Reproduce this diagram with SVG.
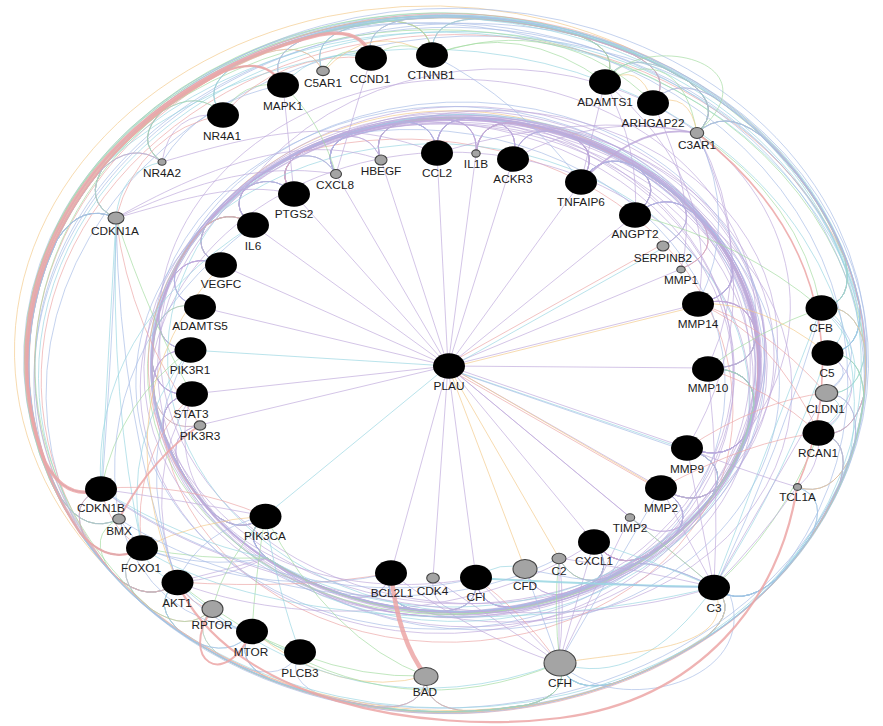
<svg xmlns="http://www.w3.org/2000/svg" width="883" height="726" viewBox="0 0 883 726">
<style>
.e{fill:none;stroke-width:.8;stroke-opacity:.85}
.p{stroke:#bea9db}
.b{stroke:#a7bde6}
.c{stroke:#98d6e2}
.k{stroke:#eca6a6}
.g{stroke:#a3dba0}
.o{stroke:#f3c98a}
.n{fill:#000}
.s{fill:#a4a4a4;stroke:#444;stroke-width:1.1}
text{font-family:"Liberation Sans",Arial,sans-serif;font-size:11.8px;fill:#1c1c1c;text-anchor:middle}
</style>
<rect width="883" height="726" fill="#fff"/>
<g id="connectors">
<g id="spokes">
<path class="e p" d="M448 366L336 174M448 366L381 160M448 366L437 153M448 366L476 154M448 366L513 159M448 366L581 182M448 366L294 194M448 366L253 225M448 366L221 265M448 366L200 307M448 366L192 394M448 366L200 425M448 366L708 368M448 366L687 448M448 366L661 488M448 366L630 517M448 366L594 542M448 366L391 573M448 366L433 578M448 366L476 578M448 366L635 215M448 366L681 269M448 366L698 304M448 366L714 587"/>
<path class="e c" d="M448 366L190 350M448 366L265 516M449 368L663 248M449 369L688 450"/>
<path class="e o" d="M448 368L698 306M448 366L525 569M448 366L559 558M450 367L662 490"/>
<path class="e k" d="M448 364L663 244M447 368L660 490"/>
<path class="e b" d="M448 369L686 451"/>
</g>
<g id="inner-bundle">
<path class="e p" d="M294 194Q272 171 302 152A300 245 0 0 1 399 122Q434 120 437 153"/>
<path class="e p" d="M294 194Q272 171 302 152A315 257 0 0 1 444 119Q479 121 476 154"/>
<path class="e b" d="M294 194Q272 171 302 152A285 233 0 0 1 488 120Q522 126 513 159"/>
<path class="e p" d="M294 194Q272 171 302 152A300 245 0 0 1 570 136Q602 151 581 182"/>
<path class="e p" d="M294 194Q272 171 302 152A315 257 0 0 1 638 168Q665 190 635 215"/>
<path class="e c" d="M294 194Q272 171 302 152A300 245 0 0 1 678 197Q701 224 663 246"/>
<path class="e p" d="M294 194Q272 171 302 152A285 233 0 0 1 730 260Q742 293 698 304"/>
<path class="e p" d="M294 194Q272 171 302 152A315 257 0 0 1 756 334Q755 369 708 368"/>
<path class="e p" d="M294 194Q272 171 302 152A300 245 0 0 1 747 432Q730 463 687 448"/>
<path class="e k" d="M294 194Q272 171 302 152A330 270 0 0 1 720 484Q697 510 661 488"/>
<path class="e p" d="M253 225Q226 206 251 182A300 245 0 0 1 287 160Q319 147 336 174"/>
<path class="e p" d="M253 225Q226 206 251 182A315 257 0 0 1 399 122Q434 120 437 153"/>
<path class="e p" d="M253 225Q226 206 251 182A285 233 0 0 1 488 120Q522 126 513 159"/>
<path class="e g" d="M253 225Q226 206 251 182A300 245 0 0 1 570 136Q602 151 581 182"/>
<path class="e p" d="M253 225Q226 206 251 182A300 245 0 0 1 638 168Q665 190 635 215"/>
<path class="e p" d="M253 225Q226 206 251 182A315 257 0 0 1 702 222Q721 252 681 269"/>
<path class="e b" d="M253 225Q226 206 251 182A300 245 0 0 1 756 334Q755 369 708 368"/>
<path class="e p" d="M253 225Q226 206 251 182A285 233 0 0 1 747 432Q730 463 687 448"/>
<path class="e p" d="M221 265Q189 251 208 222A300 245 0 0 1 336 138Q370 130 381 160"/>
<path class="e p" d="M221 265Q189 251 208 222A330 270 0 0 1 444 119Q479 121 476 154"/>
<path class="e p" d="M221 265Q189 251 208 222A300 245 0 0 1 570 136Q602 151 581 182"/>
<path class="e o" d="M221 265Q189 251 208 222A285 233 0 0 1 638 168Q665 190 635 215"/>
<path class="e p" d="M221 265Q189 251 208 222A300 245 0 0 1 730 260Q742 293 698 304"/>
<path class="e c" d="M221 265Q189 251 208 222A315 257 0 0 1 747 432Q730 463 687 448"/>
<path class="e p" d="M221 265Q189 251 208 222A300 245 0 0 1 720 484Q697 510 661 488"/>
<path class="e p" d="M200 307Q166 299 177 266A285 233 0 0 1 399 122Q434 120 437 153"/>
<path class="e p" d="M200 307Q166 299 177 266A315 257 0 0 1 570 136Q602 151 581 182"/>
<path class="e p" d="M200 307Q166 299 177 266A300 245 0 0 1 730 260Q742 293 698 304"/>
<path class="e b" d="M200 307Q166 299 177 266A300 245 0 0 1 747 432Q730 463 687 448"/>
<path class="e g" d="M190 350Q156 348 159 313A300 245 0 0 1 201 230Q226 206 253 225"/>
<path class="e p" d="M190 350Q156 348 159 313A300 245 0 0 1 242 190Q272 171 294 194"/>
<path class="e c" d="M190 350Q156 348 159 313A315 257 0 0 1 287 160Q319 147 336 174"/>
<path class="e p" d="M190 350Q156 348 159 313A300 245 0 0 1 638 168Q665 190 635 215"/>
<path class="e p" d="M190 350Q156 348 159 313A285 233 0 0 1 756 334Q755 369 708 368"/>
<path class="e p" d="M192 394Q158 398 152 363A300 245 0 0 1 170 281Q189 251 221 265"/>
<path class="e k" d="M192 394Q158 398 152 363A300 245 0 0 1 201 230Q226 206 253 225"/>
<path class="e p" d="M192 394Q158 398 152 363A315 257 0 0 1 242 190Q272 171 294 194"/>
<path class="e p" d="M192 394Q158 398 152 363A300 245 0 0 1 336 138Q370 130 381 160"/>
<path class="e b" d="M192 394Q158 398 152 363A300 245 0 0 1 730 260Q742 293 698 304"/>
<path class="e p" d="M192 394Q158 398 152 363A300 245 0 1 1 747 432Q730 463 687 448"/>
<path class="e o" d="M200 425Q167 433 155 400A300 245 0 0 1 201 230Q226 206 253 225"/>
<path class="e p" d="M200 425Q167 433 155 400A300 245 0 0 1 399 122Q434 120 437 153"/>
<path class="e p" d="M336 174Q319 147 351 134A300 245 0 0 1 399 122Q434 120 437 153"/>
<path class="e p" d="M336 174Q319 147 351 134A315 257 0 0 1 444 119Q479 121 476 154"/>
<path class="e p" d="M336 174Q319 147 351 134A285 233 0 0 1 488 120Q522 126 513 159"/>
<path class="e p" d="M336 174Q319 147 351 134A300 245 0 0 1 570 136Q602 151 581 182"/>
<path class="e b" d="M336 174Q319 147 351 134A300 245 0 0 1 638 168Q665 190 635 215"/>
<path class="e p" d="M336 174Q319 147 351 134A315 257 0 0 1 678 197Q701 224 663 246"/>
<path class="e p" d="M336 174Q319 147 351 134A300 245 0 0 1 702 222Q721 252 681 269"/>
<path class="e c" d="M336 174Q319 147 351 134A285 233 0 0 1 730 260Q742 293 698 304"/>
<path class="e p" d="M336 174Q319 147 351 134A300 245 0 0 1 756 334Q755 369 708 368"/>
<path class="e p" d="M336 174Q319 147 351 134A315 257 0 0 1 747 432Q730 463 687 448"/>
<path class="e p" d="M336 174Q319 147 351 134A300 245 0 0 1 720 484Q697 510 661 488"/>
<path class="e p" d="M336 174Q319 147 351 134A300 245 0 0 1 688 522Q660 543 630 517"/>
<path class="e b" d="M336 174Q319 147 351 134A315 257 0 0 1 648 555Q617 571 594 542"/>
<path class="e p" d="M381 160Q370 130 404 122A300 245 0 0 1 444 119Q479 121 476 154"/>
<path class="e p" d="M381 160Q370 130 404 122A300 245 0 0 1 488 120Q522 126 513 159"/>
<path class="e p" d="M381 160Q370 130 404 122A285 233 0 0 1 570 136Q602 151 581 182"/>
<path class="e p" d="M381 160Q370 130 404 122A315 257 0 0 1 638 168Q665 190 635 215"/>
<path class="e g" d="M381 160Q370 130 404 122A300 245 0 0 1 756 334Q755 369 708 368"/>
<path class="e p" d="M381 160Q370 130 404 122A300 245 0 0 1 747 432Q730 463 687 448"/>
<path class="e p" d="M381 160Q370 130 404 122A285 233 0 0 1 720 484Q697 510 661 488"/>
<path class="e p" d="M381 160Q370 130 404 122A315 257 0 0 1 648 555Q617 571 594 542"/>
<path class="e p" d="M437 153Q434 120 469 118A300 245 0 0 1 488 120Q522 126 513 159"/>
<path class="e p" d="M437 153Q434 120 469 118A300 245 0 0 1 570 136Q602 151 581 182"/>
<path class="e c" d="M437 153Q434 120 469 118A315 257 0 0 1 638 168Q665 190 635 215"/>
<path class="e p" d="M437 153Q434 120 469 118A300 245 0 0 1 730 260Q742 293 698 304"/>
<path class="e p" d="M437 153Q434 120 469 118A285 233 0 0 1 747 432Q730 463 687 448"/>
<path class="e b" d="M437 153Q434 120 469 118A300 245 0 0 1 720 484Q697 510 661 488"/>
<path class="e p" d="M437 153Q434 120 469 118A300 245 0 0 1 648 555Q617 571 594 542"/>
<path class="e p" d="M437 153Q434 120 469 118A315 257 0 0 1 609 577Q576 589 559 558"/>
<path class="e p" d="M476 154Q479 121 514 123A300 245 0 0 1 570 136Q602 151 581 182"/>
<path class="e p" d="M476 154Q479 121 514 123A285 233 0 0 1 638 168Q665 190 635 215"/>
<path class="e p" d="M476 154Q479 121 514 123A300 245 0 0 1 678 197Q701 224 663 246"/>
<path class="e k" d="M476 154Q479 121 514 123A300 245 0 0 1 702 222Q721 252 681 269"/>
<path class="e p" d="M476 154Q479 121 514 123A315 257 0 0 1 756 334Q755 369 708 368"/>
<path class="e p" d="M476 154Q479 121 514 123A300 245 0 0 1 747 432Q730 463 687 448"/>
<path class="e o" d="M476 154Q479 121 514 123A300 245 0 0 1 720 484Q697 510 661 488"/>
<path class="e p" d="M476 154Q479 121 514 123A285 233 0 0 1 688 522Q660 543 630 517"/>
<path class="e p" d="M476 154Q479 121 514 123A300 245 0 0 1 648 555Q617 571 594 542"/>
<path class="e p" d="M476 154Q479 121 514 123A315 257 0 0 1 570 593Q536 601 525 569"/>
<path class="e p" d="M476 154Q479 121 514 123A300 245 0 0 1 514 607Q479 609 476 578"/>
<path class="e p" d="M513 159Q522 126 556 132A300 245 0 0 1 638 168Q665 190 635 215"/>
<path class="e p" d="M513 159Q522 126 556 132A300 245 0 0 1 730 260Q742 293 698 304"/>
<path class="e b" d="M513 159Q522 126 556 132A315 257 0 0 1 747 432Q730 463 687 448"/>
<path class="e p" d="M513 159Q522 126 556 132A300 245 0 0 1 648 555Q617 571 594 542"/>
<path class="e p" d="M581 182Q602 151 634 166A300 245 0 0 1 730 260Q742 293 698 304"/>
<path class="e p" d="M581 182Q602 151 634 166A285 233 0 0 1 756 334Q755 369 708 368"/>
<path class="e p" d="M581 182Q602 151 634 166A300 245 0 0 1 747 432Q730 463 687 448"/>
<path class="e c" d="M581 182Q602 151 634 166A300 245 0 0 1 720 484Q697 510 661 488"/>
<path class="e p" d="M581 182Q602 151 634 166A315 257 0 0 1 648 555Q617 571 594 542"/>
<path class="e p" d="M581 182Q602 151 634 166A300 245 0 0 1 609 577Q576 589 559 558"/>
<path class="e p" d="M581 182Q602 151 634 166A300 245 0 0 1 514 607Q479 609 476 578"/>
<path class="e b" d="M581 182Q602 151 634 166A300 245 0 0 1 416 610Q382 603 391 573"/>
<path class="e p" d="M635 215Q665 190 692 212A300 245 0 0 1 747 432Q730 463 687 448"/>
<path class="e p" d="M635 215Q665 190 692 212A315 257 0 0 1 720 484Q697 510 661 488"/>
<path class="e p" d="M635 215Q665 190 692 212A300 245 0 0 1 648 555Q617 571 594 542"/>
<path class="e p" d="M635 215Q665 190 692 212A300 245 0 0 1 514 607Q479 609 476 578"/>
<path class="e p" d="M635 215Q665 190 692 212A285 233 0 0 1 416 610Q382 603 391 573"/>
<path class="e b" d="M635 215Q665 190 692 212A300 245 0 0 1 267 558Q240 536 265 516"/>
<path class="e p" d="M698 304Q742 293 754 326A300 245 0 0 1 720 484Q697 510 661 488"/>
<path class="e k" d="M698 304Q742 293 754 326A300 245 0 0 1 648 555Q617 571 594 542"/>
<path class="e p" d="M698 304Q742 293 754 326A315 257 0 0 1 514 607Q479 609 476 578"/>
<path class="e p" d="M698 304Q742 293 754 326A300 245 0 0 1 416 610Q382 603 391 573"/>
<path class="e p" d="M698 304Q742 293 754 326A300 245 0 0 1 267 558Q240 536 265 516"/>
<path class="e p" d="M708 368Q755 369 754 404A300 245 0 0 1 648 555Q617 571 594 542"/>
<path class="e g" d="M708 368Q755 369 754 404A300 245 0 0 1 609 577Q576 589 559 558"/>
<path class="e p" d="M708 368Q755 369 754 404A300 245 0 0 1 514 607Q479 609 476 578"/>
<path class="e p" d="M708 368Q755 369 754 404A315 257 0 0 1 465 612Q430 609 433 578"/>
<path class="e b" d="M708 368Q755 369 754 404A300 245 0 0 1 416 610Q382 603 391 573"/>
<path class="e p" d="M708 368Q755 369 754 404A285 233 0 0 1 267 558Q240 536 265 516"/>
<path class="e p" d="M708 368Q755 369 754 404A300 245 0 0 1 179 466Q167 433 200 425"/>
<path class="e c" d="M708 368Q755 369 754 404A300 245 0 0 1 164 433Q158 398 192 394"/>
<path class="e p" d="M687 448Q730 463 713 494A300 245 0 0 1 570 593Q536 601 525 569"/>
<path class="e b" d="M687 448Q730 463 713 494A300 245 0 0 1 514 607Q479 609 476 578"/>
<path class="e p" d="M687 448Q730 463 713 494A315 257 0 0 1 416 610Q382 603 391 573"/>
<path class="e p" d="M687 448Q730 463 713 494A300 245 0 0 1 267 558Q240 536 265 516"/>
<path class="e p" d="M687 448Q730 463 713 494A300 245 0 0 1 179 466Q167 433 200 425"/>
<path class="e k" d="M687 448Q730 463 713 494A285 233 0 0 1 164 433Q158 398 192 394"/>
<path class="e p" d="M687 448Q730 463 713 494A300 245 0 0 1 153 383Q156 348 190 350"/>
<path class="e p" d="M687 448Q730 463 713 494A300 245 0 0 1 170 281Q189 251 221 265"/>
<path class="e p" d="M661 488Q697 510 674 536A300 245 0 0 1 514 607Q479 609 476 578"/>
<path class="e p" d="M661 488Q697 510 674 536A300 245 0 0 1 416 610Q382 603 391 573"/>
<path class="e c" d="M661 488Q697 510 674 536A300 245 0 0 1 267 558Q240 536 265 516"/>
<path class="e p" d="M661 488Q697 510 674 536A315 257 0 0 1 164 433Q158 398 192 394"/>
<path class="e p" d="M661 488Q697 510 674 536A300 245 0 0 1 155 332Q166 299 200 307"/>
<path class="e b" d="M661 488Q697 510 674 536A300 245 0 0 1 201 230Q226 206 253 225"/>
<path class="e p" d="M594 542Q617 571 586 587A300 245 0 0 1 416 610Q382 603 391 573"/>
<path class="e b" d="M594 542Q617 571 586 587A300 245 0 0 1 267 558Q240 536 265 516"/>
<path class="e p" d="M594 542Q617 571 586 587A300 245 0 0 1 153 383Q156 348 190 350"/>
<path class="e p" d="M594 542Q617 571 586 587A315 257 0 0 1 170 281Q189 251 221 265"/>
<path class="e g" d="M594 542Q617 571 586 587A300 245 0 0 1 201 230Q226 206 253 225"/>
<path class="e p" d="M594 542Q617 571 586 587A300 245 0 0 1 242 190Q272 171 294 194"/>
<path class="e p" d="M476 578Q479 609 444 611A300 245 0 0 1 267 558Q240 536 265 516"/>
<path class="e b" d="M476 578Q479 609 444 611A300 245 0 0 1 164 433Q158 398 192 394"/>
<path class="e p" d="M476 578Q479 609 444 611A300 245 0 0 1 170 281Q189 251 221 265"/>
<path class="e c" d="M476 578Q479 609 444 611A315 257 0 0 1 242 190Q272 171 294 194"/>
<path class="e p" d="M391 573Q382 603 348 596A300 245 0 0 1 153 383Q156 348 190 350"/>
<path class="e p" d="M391 573Q382 603 348 596A300 245 0 0 1 201 230Q226 206 253 225"/>
<path class="e p" d="M265 516Q240 536 213 513A300 245 0 0 1 164 433Q158 398 192 394"/>
<path class="e g" d="M265 516Q240 536 213 513A300 245 0 0 1 155 332Q166 299 200 307"/>
<path class="e p" d="M265 516Q240 536 213 513A300 245 0 0 1 170 281Q189 251 221 265"/>
<path class="e k" d="M265 516Q240 536 213 513A285 233 0 0 1 201 230Q226 206 253 225"/>
<path class="e p" d="M265 516Q240 536 213 513A300 245 0 0 1 242 190Q272 171 294 194"/>
<path class="e p" d="M265 516Q240 536 213 513A315 257 0 0 1 287 160Q319 147 336 174"/>
<path class="e b" d="M265 516Q240 536 213 513A300 245 0 0 1 399 122Q434 120 437 153"/>
<path class="e c" d="M714 587Q660 560 632 564A300 245 0 0 1 416 610Q382 603 391 573"/>
<path class="e b" d="M714 587Q660 560 632 564A300 245 0 0 1 267 558Q240 536 265 516"/>
<path class="e p" d="M714 587Q660 560 632 564A300 245 0 0 1 164 433Q158 398 192 394"/>
<path class="e p" d="M661 488Q697 510 674 536A300 245 0 0 1 267 558Q225 570 177 582"/>
<path class="e b" d="M594 542Q617 571 586 587A300 245 0 0 1 267 558Q200 570 142 548"/>
<path class="e c" d="M687 448Q730 463 713 494A315 257 0 0 1 267 558Q180 540 101 489"/>
<path class="e p" d="M476 578Q479 609 444 611A300 245 0 0 1 267 558Q220 580 177 582"/>
<path class="e g" d="M708 368Q755 369 754 404A300 245 0 0 1 267 558Q200 560 142 548"/>
</g>
<g id="outer-bundle">
<path class="e c" d="M101 489Q66 502 45 462A415 345 0 0 1 688 81Q724 108 697 133"/>
<path class="e b" d="M101 489Q66 502 45 462A432 358 0 0 1 580 36Q622 52 605 82"/>
<path class="e k" d="M101 489Q66 502 45 462A415 345 0 0 1 634 55Q674 76 653 103"/>
<path class="e g" d="M101 489Q66 502 45 462A415 345 0 0 1 385 21Q430 20 432 55"/>
<path class="e c" d="M101 489Q66 502 45 462A400 333 0 0 1 223 72Q265 55 283 85"/>
<path class="e b" d="M101 489Q66 502 45 462A415 345 0 0 1 161 112Q199 88 223 115"/>
<path class="e p" d="M101 489Q66 502 45 462A415 345 0 0 1 266 53Q309 40 323 72"/>
<path class="e b" d="M142 548Q110 567 80 533A432 358 0 0 1 688 81Q724 108 697 133"/>
<path class="e c" d="M142 548Q110 567 80 533A415 345 0 0 1 580 36Q622 52 605 82"/>
<path class="e k" d="M142 548Q110 567 80 533A415 345 0 0 1 319 35Q363 27 371 58"/>
<path class="e o" d="M142 548Q110 567 80 533A415 345 0 0 1 100 171Q132 140 162 162"/>
<path class="e c" d="M142 548Q110 567 80 533A400 333 0 0 1 57 240Q81 202 116 218"/>
<path class="e b" d="M142 548Q110 567 80 533A415 345 0 0 1 634 55Q674 76 653 103"/>
<path class="e b" d="M177 582Q149 605 115 576A415 345 0 0 1 385 21Q430 20 432 55"/>
<path class="e g" d="M177 582Q149 605 115 576A415 345 0 0 1 580 36Q622 52 605 82"/>
<path class="e b" d="M177 582Q149 605 115 576A415 345 0 0 1 57 240Q81 202 116 218"/>
<path class="e k" d="M177 582Q149 605 115 576A432 358 0 0 1 223 72Q265 55 283 85"/>
<path class="e o" d="M177 582Q149 605 115 576A415 345 0 0 1 688 81Q724 108 697 133"/>
<path class="e c" d="M177 582Q149 605 115 576A415 345 0 1 1 860 307Q862 352 827 353"/>
<path class="e b" d="M177 582Q149 605 115 576A415 345 0 1 1 864 395Q852 439 819 433"/>
<path class="e k" d="M177 582Q149 605 115 576A415 345 0 1 1 845 259Q855 303 821 308"/>
<path class="e c" d="M119 519Q86 535 61 498A415 345 0 0 1 319 35Q363 27 371 58"/>
<path class="e b" d="M119 519Q86 535 61 498A415 345 0 0 1 634 55Q674 76 653 103"/>
<path class="e o" d="M119 519Q86 535 61 498A415 345 0 0 1 266 53Q309 40 323 72"/>
<path class="e g" d="M119 519Q86 535 61 498A415 345 0 0 1 688 81Q724 108 697 133"/>
<path class="e b" d="M116 218Q81 202 105 164A415 345 0 0 1 688 81Q724 108 697 133"/>
<path class="e c" d="M116 218Q81 202 105 164A415 345 0 0 1 580 36Q622 52 605 82"/>
<path class="e k" d="M116 218Q81 202 105 164A415 345 0 0 1 845 259Q855 303 821 308"/>
<path class="e c" d="M116 218Q81 202 105 164A432 358 0 0 1 860 307Q862 352 827 353"/>
<path class="e b" d="M116 218Q81 202 105 164A415 345 0 0 1 864 395Q852 439 819 433"/>
<path class="e o" d="M116 218Q81 202 105 164A415 345 0 0 1 385 21Q430 20 432 55"/>
<path class="e c" d="M116 218Q81 202 105 164A432 358 0 0 1 850 458Q830 498 797 487"/>
<path class="e k" d="M162 162Q132 140 164 109A415 345 0 0 1 319 35Q363 27 371 58"/>
<path class="e c" d="M162 162Q132 140 164 109A415 345 0 0 1 688 81Q724 108 697 133"/>
<path class="e b" d="M162 162Q132 140 164 109A415 345 0 0 1 845 259Q855 303 821 308"/>
<path class="e g" d="M162 162Q132 140 164 109A432 358 0 0 1 865 351Q860 396 826 393"/>
<path class="e g" d="M223 115Q199 88 237 64A415 345 0 0 1 385 21Q430 20 432 55"/>
<path class="e b" d="M223 115Q199 88 237 64A415 345 0 0 1 634 55Q674 76 653 103"/>
<path class="e c" d="M223 115Q199 88 237 64A415 345 0 0 1 860 307Q862 352 827 353"/>
<path class="e k" d="M283 85Q265 55 307 38A415 345 0 0 1 580 36Q622 52 605 82"/>
<path class="e c" d="M283 85Q265 55 307 38A415 345 0 0 1 688 81Q724 108 697 133"/>
<path class="e b" d="M283 85Q265 55 307 38A432 358 0 0 1 864 395Q852 439 819 433"/>
<path class="e g" d="M323 72Q309 40 352 27A415 345 0 0 1 688 81Q724 108 697 133"/>
<path class="e c" d="M323 72Q309 40 352 27A415 345 0 0 1 860 307Q862 352 827 353"/>
<path class="e b" d="M323 72Q309 40 352 27A432 358 0 0 1 775 580Q740 609 714 587"/>
<path class="e k" d="M371 58Q363 27 407 19A415 345 0 0 1 634 55Q674 76 653 103"/>
<path class="e c" d="M371 58Q363 27 407 19A415 345 0 0 1 845 259Q855 303 821 308"/>
<path class="e b" d="M371 58Q363 27 407 19A415 345 0 0 1 775 580Q740 609 714 587"/>
<path class="e g" d="M432 55Q430 20 475 19A415 345 0 0 1 580 36Q622 52 605 82"/>
<path class="e p" d="M432 55Q430 20 475 19A415 345 0 0 1 688 81Q724 108 697 133"/>
<path class="e c" d="M432 55Q430 20 475 19A432 358 0 0 1 865 351Q860 396 826 393"/>
<path class="e g" d="M605 82Q622 52 664 68A415 345 0 0 1 845 259Q855 303 821 308"/>
<path class="e b" d="M605 82Q622 52 664 68A415 345 0 0 1 775 580Q740 609 714 587"/>
<path class="e c" d="M653 103Q674 76 714 97A415 345 0 0 1 860 307Q862 352 827 353"/>
<path class="e p" d="M653 103Q674 76 714 97A415 345 0 0 1 850 458Q830 498 797 487"/>
<path class="e c" d="M697 133Q724 108 760 135A415 345 0 0 1 845 259Q855 303 821 308"/>
<path class="e b" d="M697 133Q724 108 760 135A415 345 0 0 1 860 307Q862 352 827 353"/>
<path class="e k" d="M697 133Q724 108 760 135A415 345 0 0 1 864 395Q852 439 819 433"/>
<path class="e c" d="M697 133Q724 108 760 135A432 358 0 0 1 775 580Q740 609 714 587"/>
<path class="e b" d="M697 133Q724 108 760 135A415 345 0 0 1 615 683Q571 694 559 663"/>
<path class="e c" d="M821 308Q855 303 865 347A415 345 0 0 1 775 580Q740 609 714 587"/>
<path class="e b" d="M821 308Q855 303 865 347A415 345 0 0 1 615 683Q571 694 559 663"/>
<path class="e o" d="M821 308Q855 303 865 347A400 333 0 0 1 850 458Q830 498 797 487"/>
<path class="e b" d="M827 353Q862 352 864 397A415 345 0 0 1 775 580Q740 609 714 587"/>
<path class="e c" d="M827 353Q862 352 864 397A432 358 0 0 1 615 683Q571 694 559 663"/>
<path class="e g" d="M827 353Q862 352 864 397A415 345 0 0 1 469 711Q424 709 426 676"/>
<path class="e c" d="M826 393Q860 396 855 441A415 345 0 0 1 775 580Q740 609 714 587"/>
<path class="e p" d="M826 393Q860 396 855 441A415 345 0 0 1 615 683Q571 694 559 663"/>
<path class="e b" d="M819 433Q852 439 840 483A400 333 0 0 1 775 580Q740 609 714 587"/>
<path class="e c" d="M819 433Q852 439 840 483A415 345 0 0 1 615 683Q571 694 559 663"/>
<path class="e k" d="M819 433Q852 439 840 483A415 345 0 0 1 183 634Q149 605 177 582"/>
<path class="e b" d="M819 433Q852 439 840 483A432 358 0 0 1 271 680Q231 660 252 631"/>
<path class="e c" d="M797 487Q830 498 810 538A415 345 0 0 1 615 683Q571 694 559 663"/>
<path class="e b" d="M797 487Q830 498 810 538A415 345 0 0 1 326 697Q284 682 300 652"/>
<path class="e b" d="M714 587Q740 609 705 638A415 345 0 0 1 469 711Q424 709 426 676"/>
<path class="e c" d="M714 587Q740 609 705 638A415 345 0 0 1 271 680Q231 660 252 631"/>
<path class="e p" d="M714 587Q740 609 705 638A415 345 0 0 1 183 634Q149 605 177 582"/>
<path class="e c" d="M714 587Q740 609 705 638A432 358 0 0 1 140 601Q110 567 142 548"/>
<path class="e b" d="M714 587Q740 609 705 638A415 345 0 0 1 87 542Q66 502 101 489"/>
<path class="e o" d="M714 587Q740 609 705 638A415 345 0 0 1 225 659Q188 634 212 609"/>
<path class="e k" d="M559 663Q571 694 527 705A400 333 0 0 1 469 711Q424 709 426 676"/>
<path class="e b" d="M559 663Q571 694 527 705A415 345 0 0 1 271 680Q231 660 252 631"/>
<path class="e c" d="M559 663Q571 694 527 705A415 345 0 0 1 183 634Q149 605 177 582"/>
<path class="e o" d="M559 663Q571 694 527 705A432 358 0 0 1 140 601Q110 567 142 548"/>
<path class="e c" d="M559 663Q571 694 527 705A415 345 0 0 1 225 659Q188 634 212 609"/>
<path class="e b" d="M559 663Q571 694 527 705A415 345 0 0 1 87 542Q66 502 101 489"/>
<path class="e g" d="M559 663Q571 694 527 705A415 345 0 0 1 111 572Q86 535 119 519"/>
<path class="e c" d="M426 676Q424 709 379 707A415 345 0 0 1 183 634Q149 605 177 582"/>
<path class="e b" d="M426 676Q424 709 379 707A415 345 0 0 1 140 601Q110 567 142 548"/>
<path class="e k" d="M426 676Q424 709 379 707A432 358 0 0 1 87 542Q66 502 101 489"/>
<path class="e c" d="M252 631Q231 660 191 640A415 345 0 0 1 57 240Q81 202 116 218"/>
<path class="e b" d="M252 631Q231 660 191 640A415 345 0 0 1 100 171Q132 140 162 162"/>
<path class="e k" d="M212 609Q188 634 151 609A415 345 0 0 1 57 240Q81 202 116 218"/>
<path class="e g" d="M212 609Q188 634 151 609A432 358 0 0 1 161 112Q199 88 223 115"/>
<path class="e b" d="M119 519Q86 535 61 498A415 345 0 0 1 57 240Q81 202 116 218"/>
<path class="e c" d="M101 489Q66 502 45 462A415 345 0 0 1 57 240Q81 202 116 218"/>
<path class="e p" d="M101 489Q66 502 45 462A415 345 0 0 1 100 171Q132 140 162 162"/>
<path class="e b" d="M300 652Q284 682 242 667A415 345 0 0 1 57 240Q81 202 116 218"/>
</g>
<g id="local-links">
<path class="e g" d="M223 115Q240 80 283 85"/>
<path class="e k" d="M223 115Q280 50 371 58"/>
<path class="e c" d="M283 85Q320 45 371 58"/>
<path class="e g" d="M323 72Q340 40 371 58"/>
<path class="e o" d="M323 72Q370 20 432 55"/>
<path class="e g" d="M371 58Q400 35 432 55"/>
<path class="e g" d="M432 55Q520 20 605 82"/>
<path class="e g" d="M432 55Q560 10 653 103"/>
<path class="e o" d="M605 82Q640 60 653 103"/>
<path class="e g" d="M605 82Q680 40 697 133"/>
<path class="e o" d="M653 103Q690 90 697 133"/>
<path class="e g" d="M605 82C640 30 780 60 697 133"/>
<path class="e p" d="M162 162Q170 110 223 115"/>
<path class="e b" d="M162 162Q200 100 283 85"/>
<path class="e c" d="M116 218Q120 170 162 162"/>
<path class="e k" d="M116 218Q140 130 223 115"/>
<path class="e p" d="M162 162C240 140 330 110 437 153"/>
<path class="e p" d="M116 218C180 190 250 160 336 174"/>
<path class="e p" d="M116 218C180 200 240 180 294 194"/>
<path class="e p" d="M116 218C200 170 300 130 381 160"/>
<path class="e c" d="M116 218L101 489"/>
<path class="e b" d="M117 219Q112 350 102 489"/>
<path class="e g" d="M116 218Q150 320 192 394"/>
<path class="e k" d="M116 218Q130 330 200 425"/>
<path class="e b" d="M116 218Q120 420 177 582"/>
<path class="e c" d="M116 218Q110 400 142 548"/>
<path class="e p" d="M697 133Q600 110 513 159"/>
<path class="e p" d="M697 133Q580 110 437 153"/>
<path class="e p" d="M697 133Q760 250 708 368"/>
<path class="e p" d="M697 133Q775 300 687 448"/>
<path class="e b" d="M697 133Q740 220 698 304"/>
<path class="e p" d="M605 82L581 182"/>
<path class="e p" d="M605 82Q640 150 635 215"/>
<path class="e p" d="M653 103Q700 200 681 269"/>
<path class="e p" d="M605 82Q720 180 698 304"/>
<path class="e b" d="M432 55Q520 100 581 182"/>
<path class="e p" d="M371 58L336 174"/>
<path class="e p" d="M283 85L294 194"/>
<path class="e g" d="M283 85Q320 120 336 174"/>
<path class="e c" d="M821 308Q860 325 827 353"/>
<path class="e b" d="M827 353Q860 372 826 393"/>
<path class="e c" d="M826 393Q858 412 819 433"/>
<path class="e b" d="M821 308Q880 350 826 393"/>
<path class="e c" d="M821 308Q890 370 819 433"/>
<path class="e p" d="M827 353Q880 390 819 433"/>
<path class="e c" d="M821 308L714 587"/>
<path class="e b" d="M822 309Q780 450 715 588"/>
<path class="e c" d="M827 353Q790 470 714 587"/>
<path class="e p" d="M826 393L714 587"/>
<path class="e g" d="M819 433Q780 530 714 587"/>
<path class="e p" d="M819 433Q820 470 797 487"/>
<path class="e p" d="M797 487Q740 470 687 448"/>
<path class="e k" d="M698 304Q770 330 819 433"/>
<path class="e k" d="M708 368Q770 390 819 433"/>
<path class="e k" d="M698 304Q760 320 826 393"/>
<path class="e k" d="M687 448Q760 400 826 393"/>
<path class="e k" d="M661 488Q750 440 819 433"/>
<path class="e g" d="M821 308Q760 330 708 368"/>
<path class="e o" d="M827 353Q760 300 698 304"/>
<path class="e g" d="M821 308Q800 200 697 133"/>
<path class="e g" d="M821 308Q740 240 635 215"/>
<path class="e p" d="M797 487Q760 540 714 587"/>
<path class="e p" d="M559 663L476 578"/>
<path class="e k" d="M559 663Q520 610 476 578"/>
<path class="e b" d="M559 663L525 569"/>
<path class="e p" d="M559 663L559 558"/>
<path class="e g" d="M560 663Q553 610 559 558"/>
<path class="e p" d="M558 663Q566 610 559 558"/>
<path class="e p" d="M559 663L594 542"/>
<path class="e p" d="M559 663L630 517"/>
<path class="e b" d="M559 663L661 488"/>
<path class="e p" d="M559 663L433 578"/>
<path class="e p" d="M559 663Q480 640 391 573"/>
<path class="e c" d="M559 663Q640 690 714 587"/>
<path class="e o" d="M559 663C640 650 740 650 714 587"/>
<path class="e b" d="M559 663C620 720 760 680 730 595"/>
<path class="e c" style="stroke-width:1.8" d="M714 587Q600 585 476 578"/>
<path class="e b" d="M714 587Q620 590 525 569"/>
<path class="e p" d="M714 587Q640 570 559 558"/>
<path class="e c" d="M714 587Q650 560 594 542"/>
<path class="e p" d="M714 587L661 488"/>
<path class="e p" d="M714 587L687 448"/>
<path class="e p" d="M714 587Q720 480 708 368"/>
<path class="e g" d="M714 587L630 517"/>
<path class="e c" d="M476 578Q500 560 525 569"/>
<path class="e k" d="M101 489Q110 530 142 548"/>
<path class="e b" d="M119 519L142 548"/>
<path class="e c" d="M142 548Q150 575 177 582"/>
<path class="e k" d="M177 582Q190 605 212 609"/>
<path class="e b" d="M177 582Q210 625 252 631"/>
<path class="e c" d="M252 631Q275 650 300 652"/>
<path class="e b" d="M265 516Q200 530 177 582"/>
<path class="e g" d="M265 516Q255 580 252 631"/>
<path class="e c" d="M265 516Q280 600 300 652"/>
<path class="e g" d="M265 516Q225 560 212 609"/>
<path class="e o" d="M265 516Q200 520 142 548"/>
<path class="e g" d="M265 516Q330 640 426 676"/>
<path class="e k" d="M265 516Q180 480 101 489"/>
<path class="e g" d="M177 582Q300 680 426 676"/>
<path class="e o" d="M252 631Q340 700 426 676"/>
<path class="e k" d="M177 582Q300 590 391 573"/>
<path class="e b" d="M142 548Q280 600 391 573"/>
<path class="e c" d="M177 582Q350 740 559 663"/>
<path class="e g" d="M252 631Q400 730 559 663"/>
<path class="e p" d="M177 582Q140 480 192 394"/>
<path class="e k" d="M142 548Q130 460 192 394"/>
<path class="e c" d="M142 548Q120 440 190 350"/>
<path class="e b" d="M177 582Q130 450 190 350"/>
<path class="e g" d="M101 489Q120 400 190 350"/>
<path class="e o" d="M177 582Q100 400 221 265"/>
<path class="e b" d="M119 519Q90 350 253 225"/>
<path class="e c" d="M101 489Q90 330 253 225"/>
<path class="e p" d="M101 489Q180 500 265 516"/>
<path class="e b" d="M119 519Q150 620 252 631"/>
<path class="e b" d="M101 489C200 560 350 610 476 578"/>
<path class="e c" d="M142 548C250 620 500 640 714 587"/>
<path class="e p" d="M192 394C150 520 300 610 476 578"/>
<path class="e b" d="M119 519C230 590 420 630 559 558"/>
<path class="e p" d="M177 582C300 630 480 620 594 542"/>
<path class="e p" d="M101 489C230 590 520 650 714 587"/>
</g>
<g id="heavy-links">
<path class="e k" style="stroke-width:3.5" d="M101 489Q66 502 45 462A405 338 0 0 1 319 35Q363 27 371 58"/>
<path class="e k" style="stroke-width:2.2" d="M142 548Q110 567 80 533A415 345 0 0 1 223 72Q265 55 283 85"/>
<path class="e k" style="stroke-width:4.5" d="M391 573Q398 640 426 676"/>
<path class="e k" style="stroke-width:2.2" d="M177 582C230 700 420 735 560 718C700 700 780 600 797 487"/>
<path class="e k" style="stroke-width:2" d="M212 609C178 660 225 692 252 631"/>
<path class="e k" style="stroke-width:2" d="M200 425Q150 460 119 519"/>
<path class="e k" style="stroke-width:1.6" d="M797 487C835 400 850 250 697 133"/>
<path class="e p" style="stroke-width:1.8" d="M697 133Q640 122 581 182"/>
</g>
</g>
<g id="nodes">
<g id="n-PLAU"><ellipse class="n" cx="449" cy="366" rx="16" ry="12.8"/><text x="449" y="389.5">PLAU</text></g>
<g id="n-CCND1"><ellipse class="n" cx="371" cy="58" rx="16" ry="12.8"/><text x="370" y="82.5">CCND1</text></g>
<g id="n-CTNNB1"><ellipse class="n" cx="432" cy="55" rx="16" ry="12.8"/><text x="431" y="79">CTNNB1</text></g>
<g id="n-MAPK1"><ellipse class="n" cx="283" cy="85" rx="16" ry="12.8"/><text x="283" y="109.5">MAPK1</text></g>
<g id="n-NR4A1"><ellipse class="n" cx="223" cy="115" rx="16" ry="12.8"/><text x="222" y="139.5">NR4A1</text></g>
<g id="n-PTGS2"><ellipse class="n" cx="294" cy="194" rx="16" ry="12.8"/><text x="294" y="218">PTGS2</text></g>
<g id="n-IL6"><ellipse class="n" cx="253" cy="225" rx="16" ry="12.8"/><text x="253" y="249.5">IL6</text></g>
<g id="n-CCL2"><ellipse class="n" cx="437" cy="153" rx="16" ry="12.8"/><text x="437" y="177">CCL2</text></g>
<g id="n-ACKR3"><ellipse class="n" cx="513" cy="159" rx="16" ry="12.8"/><text x="513" y="183">ACKR3</text></g>
<g id="n-ADAMTS1"><ellipse class="n" cx="605" cy="82" rx="16" ry="12.8"/><text x="605" y="105.5">ADAMTS1</text></g>
<g id="n-ARHGAP22"><ellipse class="n" cx="653" cy="103" rx="16" ry="12.8"/><text x="653" y="127">ARHGAP22</text></g>
<g id="n-TNFAIP6"><ellipse class="n" cx="581" cy="182" rx="16" ry="12.8"/><text x="581" y="206">TNFAIP6</text></g>
<g id="n-ANGPT2"><ellipse class="n" cx="635" cy="215" rx="16" ry="12.8"/><text x="635" y="238">ANGPT2</text></g>
<g id="n-VEGFC"><ellipse class="n" cx="221" cy="265" rx="16" ry="12.8"/><text x="221" y="288">VEGFC</text></g>
<g id="n-ADAMTS5"><ellipse class="n" cx="200" cy="307" rx="16" ry="12.8"/><text x="200" y="330">ADAMTS5</text></g>
<g id="n-PIK3R1"><ellipse class="n" cx="190.5" cy="350" rx="16" ry="12.8"/><text x="190" y="373.5">PIK3R1</text></g>
<g id="n-STAT3"><ellipse class="n" cx="192" cy="394" rx="16" ry="12.8"/><text x="191" y="417.5">STAT3</text></g>
<g id="n-MMP14"><ellipse class="n" cx="698" cy="304" rx="16" ry="12.8"/><text x="698" y="327.5">MMP14</text></g>
<g id="n-MMP10"><ellipse class="n" cx="708" cy="369" rx="16" ry="12.8"/><text x="708" y="392">MMP10</text></g>
<g id="n-CFB"><ellipse class="n" cx="821.5" cy="308" rx="16" ry="12.8"/><text x="821" y="332">CFB</text></g>
<g id="n-C5"><ellipse class="n" cx="827.5" cy="353" rx="16" ry="12.8"/><text x="827" y="376.7">C5</text></g>
<g id="n-RCAN1"><ellipse class="n" cx="818.5" cy="433" rx="16" ry="12.8"/><text x="818" y="456.7">RCAN1</text></g>
<g id="n-MMP9"><ellipse class="n" cx="687" cy="448" rx="16" ry="12.8"/><text x="687" y="472.5">MMP9</text></g>
<g id="n-MMP2"><ellipse class="n" cx="661" cy="488" rx="16" ry="12.8"/><text x="661" y="511.7">MMP2</text></g>
<g id="n-CXCL1"><ellipse class="n" cx="594" cy="542" rx="16" ry="12.8"/><text x="594" y="565.3">CXCL1</text></g>
<g id="n-CFI"><ellipse class="n" cx="476" cy="577.5" rx="16" ry="12.8"/><text x="476" y="600.7">CFI</text></g>
<g id="n-C3"><ellipse class="n" cx="714" cy="587.5" rx="16" ry="12.8"/><text x="714" y="611.5">C3</text></g>
<g id="n-BCL2L1"><ellipse class="n" cx="391" cy="573" rx="16" ry="12.8"/><text x="392" y="596.7">BCL2L1</text></g>
<g id="n-PLCB3"><ellipse class="n" cx="300" cy="652" rx="16" ry="12.8"/><text x="300" y="676.5">PLCB3</text></g>
<g id="n-MTOR"><ellipse class="n" cx="252" cy="631.5" rx="16" ry="12.8"/><text x="251" y="655.7">MTOR</text></g>
<g id="n-AKT1"><ellipse class="n" cx="177.5" cy="582.5" rx="16" ry="12.8"/><text x="177" y="606.7">AKT1</text></g>
<g id="n-FOXO1"><ellipse class="n" cx="142" cy="548" rx="16" ry="12.8"/><text x="141" y="572.3">FOXO1</text></g>
<g id="n-CDKN1B"><ellipse class="n" cx="101" cy="489" rx="16" ry="12.8"/><text x="101" y="512.3">CDKN1B</text></g>
<g id="n-PIK3CA"><ellipse class="n" cx="265.5" cy="516.5" rx="16" ry="12.8"/><text x="265" y="540">PIK3CA</text></g>
<g id="n-C5AR1"><ellipse class="s" cx="323" cy="71" rx="6.3" ry="4.6"/><text x="323" y="87">C5AR1</text></g>
<g id="n-NR4A2"><ellipse class="s" cx="162" cy="162" rx="4" ry="3.3"/><text x="162" y="176.5">NR4A2</text></g>
<g id="n-CXCL8"><ellipse class="s" cx="336" cy="174" rx="5.5" ry="4.5"/><text x="335" y="189">CXCL8</text></g>
<g id="n-HBEGF"><ellipse class="s" cx="381" cy="160" rx="6" ry="5"/><text x="381" y="175">HBEGF</text></g>
<g id="n-IL1B"><ellipse class="s" cx="476" cy="153.5" rx="4.2" ry="3.6"/><text x="476" y="168">IL1B</text></g>
<g id="n-CDKN1A"><ellipse class="s" cx="116" cy="218" rx="8" ry="6"/><text x="115" y="235">CDKN1A</text></g>
<g id="n-C3AR1"><ellipse class="s" cx="697" cy="133" rx="6.7" ry="5.5"/><text x="697" y="149">C3AR1</text></g>
<g id="n-SERPINB2"><ellipse class="s" cx="663" cy="246" rx="6" ry="5"/><text x="663" y="261.5">SERPINB2</text></g>
<g id="n-MMP1"><ellipse class="s" cx="681" cy="269.5" rx="4.2" ry="3.4"/><text x="681" y="283.5">MMP1</text></g>
<g id="n-CLDN1"><ellipse class="s" cx="826.5" cy="393" rx="11.2" ry="8.5"/><text x="825.5" y="413.3">CLDN1</text></g>
<g id="n-TCL1A"><ellipse class="s" cx="797.5" cy="487" rx="4" ry="3.4"/><text x="797.5" y="500.5">TCL1A</text></g>
<g id="n-TIMP2"><ellipse class="s" cx="630" cy="517.5" rx="4.7" ry="3.8"/><text x="630" y="532">TIMP2</text></g>
<g id="n-C2"><ellipse class="s" cx="559" cy="558.5" rx="7" ry="5.2"/><text x="559" y="575">C2</text></g>
<g id="n-CFD"><ellipse class="s" cx="525" cy="569" rx="12" ry="9.5"/><text x="525" y="590">CFD</text></g>
<g id="n-CDK4"><ellipse class="s" cx="433" cy="578" rx="6.3" ry="5"/><text x="432.5" y="595">CDK4</text></g>
<g id="n-BAD"><ellipse class="s" cx="426" cy="676.5" rx="12" ry="9"/><text x="425" y="696">BAD</text></g>
<g id="n-CFH"><ellipse class="s" cx="560" cy="663" rx="16" ry="13"/><text x="560" y="686.7">CFH</text></g>
<g id="n-RPTOR"><ellipse class="s" cx="212.5" cy="609" rx="10.5" ry="8.5"/><text x="212" y="628.7">RPTOR</text></g>
<g id="n-BMX"><ellipse class="s" cx="119" cy="519" rx="6.3" ry="5"/><text x="119" y="535.3">BMX</text></g>
<g id="n-PIK3R3"><ellipse class="s" cx="200" cy="425.5" rx="5.8" ry="4.6"/><text x="200" y="440">PIK3R3</text></g>
</g>
</svg>
